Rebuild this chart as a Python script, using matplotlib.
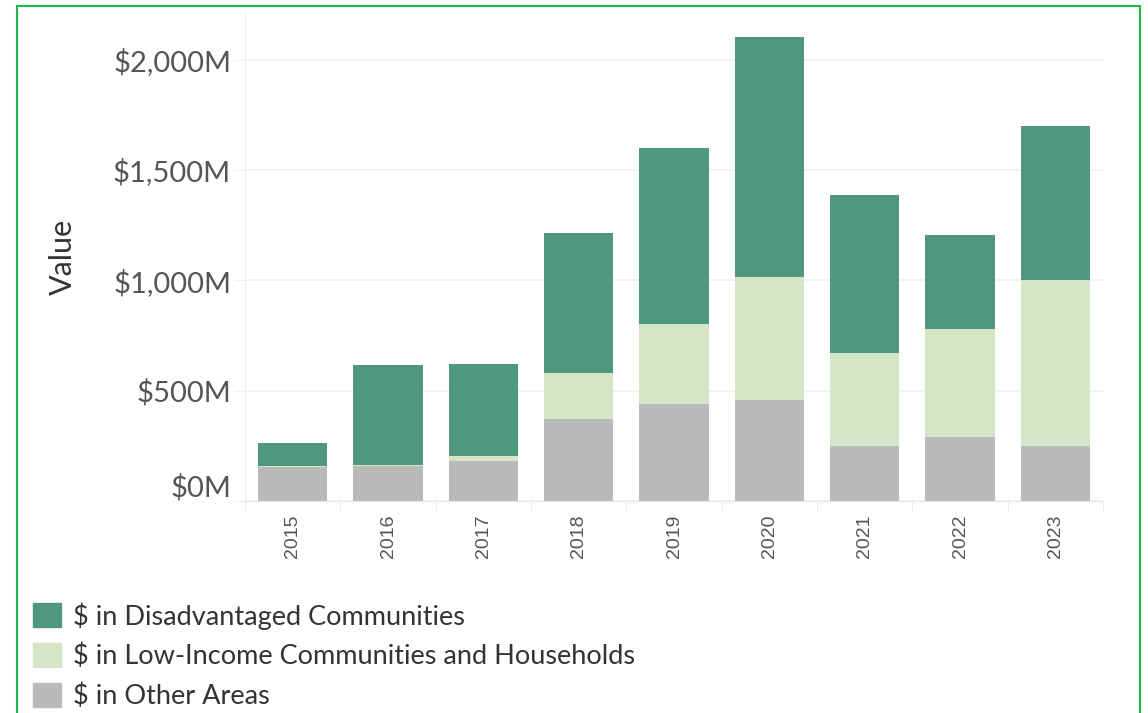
import matplotlib
matplotlib.use("Agg")
import matplotlib.pyplot as plt
import matplotlib.patches as mpatches
from matplotlib.ticker import FuncFormatter

years = ["2015", "2016", "2017", "2018", "2019", "2020", "2021", "2022", "2023"]
other_areas = [153, 160, 183, 370, 440, 458, 251, 289, 251]
low_income = [4, 5, 21, 209, 362, 558, 418, 489, 750]
disadvantaged = [107, 451, 417, 634, 799, 1085, 718, 427, 698]

labels = ["$ in Disadvantaged Communities",
          "$ in Low-Income Communities and Households",
          "$ in Other Areas"]
colors = ["#50977f", "#d5e5c7", "#bababa"]
text_color = "#555555"
font = "Lato"

fig = plt.figure(figsize=(11.48, 7.13), dpi=100)
ax = fig.add_axes([245 / 1148, 212 / 713, 858 / 1148, 488 / 713])

x = list(range(len(years)))
bottom2 = [a + b for a, b in zip(other_areas, low_income)]
ax.bar(x, other_areas, width=0.73, color=colors[2], zorder=2)
ax.bar(x, low_income, width=0.73, bottom=other_areas, color=colors[1], zorder=2)
ax.bar(x, disadvantaged, width=0.73, bottom=bottom2, color=colors[0], zorder=2)

ax.set_xlim(-0.5, len(years) - 0.5)
ax.set_ylim(0, 2211)
ax.set_yticks([0, 500, 1000, 1500, 2000])
ax.yaxis.set_major_formatter(FuncFormatter(lambda v, p: f"${v:,.0f}M"))
ax.grid(axis="y", color="#f0f0f0", linewidth=1.2, zorder=0)
ax.tick_params(axis="y", length=8, color="#f0f0f0", labelsize=21,
               labelcolor=text_color, pad=2)
for lab in ax.get_yticklabels():
    lab.set_fontfamily(font)
# Tableau nudges the bottom label up so it stays inside the pane
ylabs = ax.get_yticklabels()
ylabs[0].set_verticalalignment("bottom")

ax.set_xticks(x)
ax.set_xticklabels(years, rotation=90, fontsize=14, color=text_color,
                   family="Liberation Sans")
ax.tick_params(axis="x", length=0, pad=10)
# category divider ticks
ax.set_xticks([i - 0.5 for i in range(len(years) + 1)], minor=True)
ax.tick_params(axis="x", which="minor", length=8, color="#e8e8e8")

for side in ["top", "right"]:
    ax.spines[side].set_visible(False)
ax.spines["left"].set_color("#eeeeee")
ax.spines["bottom"].set_color("#e8e8e8")

ax.set_ylabel("Value", fontsize=22, color="#333333", family=font, labelpad=26)

handles = [mpatches.Patch(color=c) for c in colors]
fig.legend(handles, labels, loc="upper left", bbox_to_anchor=(33 / 1148, 1 - 602 / 713),
           frameon=False, handlelength=1.05, handleheight=1.0,
           handletextpad=0.42, labelspacing=0.5, borderpad=0, borderaxespad=0,
           prop={"family": font, "size": 19.5}, labelcolor="#333333")

fig.patches.append(mpatches.Rectangle((17 / 1148, -0.1), 1123 / 1148, 1.1 - 6 / 713,
                                      transform=fig.transFigure, fill=False,
                                      edgecolor="#1fb84a", linewidth=1.5))

fig.savefig("out.png", dpi=100)
